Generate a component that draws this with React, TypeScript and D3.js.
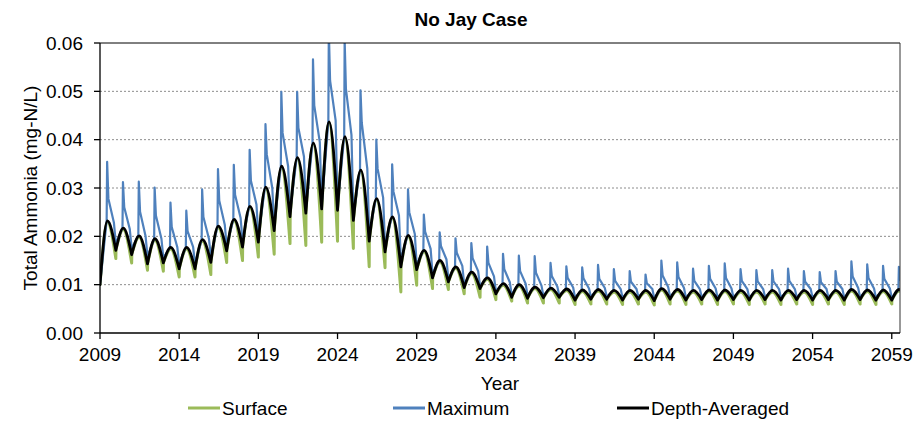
import React from "react";
import * as d3 from "d3";

// ---- Data ----
const firstYear = 2009;
const xTickYears = [2009, 2014, 2019, 2024, 2029, 2034, 2039, 2044, 2049, 2054, 2059];
const yTickValues = [0, 0.01, 0.02, 0.03, 0.04, 0.05, 0.06];

// Depth-averaged: value at the start of each year (trough) 2009..2060
const avgTrough = [
  0.0100, 0.0171, 0.0162, 0.0143, 0.0145, 0.0133, 0.0133, 0.0146, 0.0170, 0.0178, 0.0188,
  0.0212, 0.0241, 0.0248, 0.0257, 0.0254, 0.0233, 0.0190, 0.0168, 0.0137, 0.0131,
  0.0114, 0.0106, 0.0094, 0.0092, 0.0081, 0.0074, 0.0072, 0.0073, 0.0074, 0.0068,
  0.0070, 0.0070, 0.0068, 0.0070, 0.0067, 0.0070, 0.0068, 0.0069, 0.0068, 0.0069,
  0.0068, 0.0069, 0.0068, 0.0069, 0.0068, 0.0069, 0.0068, 0.0069, 0.0068, 0.0068, 0.0068,
];
// Depth-averaged: seasonal peak for each year 2009..2059
const avgPeak = [
  0.0232, 0.0217, 0.0201, 0.0195, 0.0177, 0.0177, 0.0193, 0.0221, 0.0235, 0.0262, 0.0302,
  0.0345, 0.0363, 0.0393, 0.0437, 0.0406, 0.0337, 0.0278, 0.0240, 0.0202, 0.0171,
  0.0150, 0.0137, 0.0126, 0.0114, 0.0102, 0.0100, 0.0095, 0.0093, 0.0091, 0.0089,
  0.0090, 0.0088, 0.0088, 0.0088, 0.0092, 0.0090, 0.0088, 0.0089, 0.0089, 0.0088,
  0.0088, 0.0088, 0.0088, 0.0088, 0.0088, 0.0088, 0.0090, 0.0089, 0.0089, 0.0090,
];
// Surface: trough at start of each year 2009..2060
const surfTrough = [
  0.0100, 0.0154, 0.0145, 0.0130, 0.0128, 0.0116, 0.0116, 0.0121, 0.0146, 0.0150, 0.0157,
  0.0163, 0.0185, 0.0181, 0.0188, 0.0190, 0.0175, 0.0137, 0.0135, 0.0085, 0.0099,
  0.0092, 0.0090, 0.0081, 0.0074, 0.0069, 0.0066, 0.0062, 0.0062, 0.0062, 0.0059,
  0.0060, 0.0060, 0.0059, 0.0060, 0.0058, 0.0060, 0.0059, 0.0060, 0.0059, 0.0060,
  0.0059, 0.0060, 0.0059, 0.0060, 0.0059, 0.0060, 0.0059, 0.0060, 0.0059, 0.0060, 0.0060,
];
// Maximum: trough at start of each year 2009..2060
const maxTrough = [
  0.0100, 0.0185, 0.0175, 0.0158, 0.0155, 0.0143, 0.0143, 0.0158, 0.0180, 0.0190, 0.0200,
  0.0222, 0.0250, 0.0258, 0.0265, 0.0262, 0.0245, 0.0205, 0.0180, 0.0150, 0.0140,
  0.0122, 0.0112, 0.0100, 0.0097, 0.0086, 0.0079, 0.0077, 0.0077, 0.0078, 0.0073,
  0.0075, 0.0075, 0.0073, 0.0075, 0.0072, 0.0075, 0.0073, 0.0074, 0.0073, 0.0074,
  0.0073, 0.0074, 0.0073, 0.0074, 0.0073, 0.0074, 0.0073, 0.0074, 0.0073, 0.0073, 0.0073,
];
// Maximum: spike top 2009..2059
const maxPeak = [
  0.0354, 0.0312, 0.0313, 0.0301, 0.0270, 0.0253, 0.0297, 0.0339, 0.0348, 0.0379, 0.0432,
  0.0499, 0.0499, 0.0566, 0.0625, 0.0605, 0.0502, 0.0400, 0.0349, 0.0297, 0.0245,
  0.0208, 0.0196, 0.0186, 0.0179, 0.0164, 0.0160, 0.0159, 0.0145, 0.0138, 0.0136,
  0.0141, 0.0132, 0.0128, 0.0121, 0.0150, 0.0146, 0.0133, 0.0139, 0.0144, 0.0132,
  0.0130, 0.0130, 0.0133, 0.0128, 0.0126, 0.0128, 0.0148, 0.0142, 0.0139, 0.0137,
];
// Maximum: value just after the spike 2009..2059
const maxDrop = [
  0.0278, 0.0260, 0.0251, 0.0243, 0.0219, 0.0211, 0.0240, 0.0274, 0.0286, 0.0315, 0.0370,
  0.0414, 0.0424, 0.0471, 0.0522, 0.0505, 0.0435, 0.0340, 0.0293, 0.0250, 0.0210,
  0.0180, 0.0166, 0.0155, 0.0145, 0.0132, 0.0128, 0.0125, 0.0118, 0.0114, 0.0113,
  0.0112, 0.0108, 0.0106, 0.0103, 0.0119, 0.0116, 0.0108, 0.0112, 0.0114, 0.0108,
  0.0107, 0.0107, 0.0108, 0.0106, 0.0105, 0.0106, 0.0117, 0.0114, 0.0112, 0.0111,
];
// Maximum: late-season knee before falling to the trough 2009..2059
const maxKnee = [
  0.0228, 0.0215, 0.0200, 0.0195, 0.0178, 0.0178, 0.0195, 0.0224, 0.0238, 0.0266, 0.0300,
  0.0345, 0.0365, 0.0395, 0.0440, 0.0410, 0.0340, 0.0280, 0.0243, 0.0205, 0.0174,
  0.0152, 0.0139, 0.0128, 0.0117, 0.0105, 0.0102, 0.0098, 0.0096, 0.0094, 0.0092,
  0.0093, 0.0091, 0.0091, 0.0091, 0.0095, 0.0093, 0.0091, 0.0092, 0.0092, 0.0091,
  0.0091, 0.0091, 0.0091, 0.0091, 0.0091, 0.0091, 0.0093, 0.0092, 0.0092, 0.0093,
];

const legendItems = [
  { name: "Surface", color: "#9BBB59" },
  { name: "Maximum", color: "#4F81BD" },
  { name: "Depth-Averaged", color: "#000000" },
];

const FONT = "'Liberation Sans', Arial, sans-serif";

export default function App() {
  const W = 918;
  const H = 423;
  const left = 100, right = 900, top = 43, bottom = 333;
  const x = d3.scaleLinear().domain([2009, 2059.52]).range([left, right]);
  const y = d3.scaleLinear().domain([0, 0.06]).range([bottom, top]);

  type P = [number, number];
  const hump = d3.line<P>().x((d) => x(d[0])).y((d) => y(d[1])).curve(d3.curveMonotoneX);
  const lin = d3.line<P>().x((d) => x(d[0])).y((d) => y(d[1]));

  const avgPath = avgPeak
    .map((p, i) => {
      const yr = firstYear + i;
      return hump([[yr, avgTrough[i]], [yr + 0.47, p], [yr + 1, avgTrough[i + 1]]]);
    })
    .join("");

  // Surface: rises with the depth average, falls below it into a deeper dip at year end
  const surfPath = avgPeak
    .map((p, i) => {
      const yr = firstYear + i;
      const h = hump([[yr, avgTrough[i]], [yr + 0.47, p - 0.0003], [yr + 1, surfTrough[i + 1]]]);
      const back = lin([[yr + 1, surfTrough[i + 1]], [yr + 1.01, avgTrough[i + 1]]]);
      return h + back;
    })
    .join("");

  const maxPts: P[] = [];
  maxPeak.forEach((p, i) => {
    const yr = firstYear + i;
    maxPts.push([yr, maxTrough[i]]);
    maxPts.push([yr + 0.42, avgPeak[i]]);
    maxPts.push([yr + 0.45, p]);
    maxPts.push([yr + 0.53, maxDrop[i]]);
    maxPts.push([yr + 0.88, maxKnee[i]]);
  });
  maxPts.push([firstYear + maxPeak.length, maxTrough[maxPeak.length]]);
  const maxPath = lin(maxPts) || "";

  const legendX = [188, 393, 617];

  return (
    <svg
      width={W}
      height={H}
      style={{ position: "absolute", left: 0, top: 0, background: "#fff" }}
      fontFamily={FONT}
    >
      <defs>
        <clipPath id="plotClip">
          <rect x={left} y={top} width={right - left} height={bottom - top} />
        </clipPath>
      </defs>
      <rect x={0} y={0} width={W} height={H} fill="#fff" />

      {/* gridlines */}
      {yTickValues
        .filter((v) => v > 0 && v < 0.06)
        .map((v) => (
          <line
            key={"g" + v}
            x1={left}
            x2={right}
            y1={y(v)}
            y2={y(v)}
            stroke="#8c8c8c"
            strokeWidth={1}
            strokeDasharray="2,2"
          />
        ))}

      {/* series */}
      <g clipPath="url(#plotClip)" fill="none" strokeLinejoin="round" strokeLinecap="round">
        <path d={surfPath} stroke="#9BBB59" strokeWidth={3} />
        <path d={maxPath} stroke="#4F81BD" strokeWidth={2.2} />
        <path d={avgPath} stroke="#000" strokeWidth={2.8} />
      </g>

      {/* frame */}
      <line x1={left} x2={right} y1={top} y2={top} stroke="#000" strokeWidth={1} />
      <line x1={right} x2={right} y1={top} y2={bottom} stroke="#333" strokeWidth={1} />
      <line x1={left} x2={left} y1={top} y2={bottom} stroke="#000" strokeWidth={1.3} />
      <line x1={left} x2={right} y1={bottom} y2={bottom} stroke="#000" strokeWidth={1.3} />

      {/* y ticks */}
      {yTickValues.map((v) => (
        <g key={"y" + v}>
          <line x1={left - 6} x2={left} y1={y(v)} y2={y(v)} stroke="#000" strokeWidth={1.3} />
          <text x={83} y={y(v) + 6.8} textAnchor="end" fontSize={19} fill="#000">
            {d3.format(".2f")(v)}
          </text>
        </g>
      ))}

      {/* x ticks */}
      {xTickYears.map((yr) => (
        <g key={"x" + yr}>
          <line x1={x(yr)} x2={x(yr)} y1={bottom} y2={bottom + 6} stroke="#000" strokeWidth={1.3} />
          <text x={x(yr)} y={361} textAnchor="middle" fontSize={19} fill="#000">
            {yr}
          </text>
        </g>
      ))}

      {/* titles */}
      <text x={471} y={26} textAnchor="middle" fontSize={19} fontWeight="bold" fill="#000">
        No Jay Case
      </text>
      <text x={500} y={390} textAnchor="middle" fontSize={19} fill="#000">
        Year
      </text>
      <text
        transform={`translate(37, ${(top + bottom) / 2}) rotate(-90)`}
        textAnchor="middle"
        fontSize={19}
        fill="#000"
      >
        Total Ammonia (mg-N/L)
      </text>

      {/* legend */}
      {legendItems.map((it, i) => (
        <g key={it.name}>
          <line
            x1={legendX[i]}
            x2={legendX[i] + 32}
            y1={408}
            y2={408}
            stroke={it.color}
            strokeWidth={3}
          />
          <text x={legendX[i] + 34} y={415} fontSize={19} fill="#000">
            {it.name}
          </text>
        </g>
      ))}
    </svg>
  );
}
